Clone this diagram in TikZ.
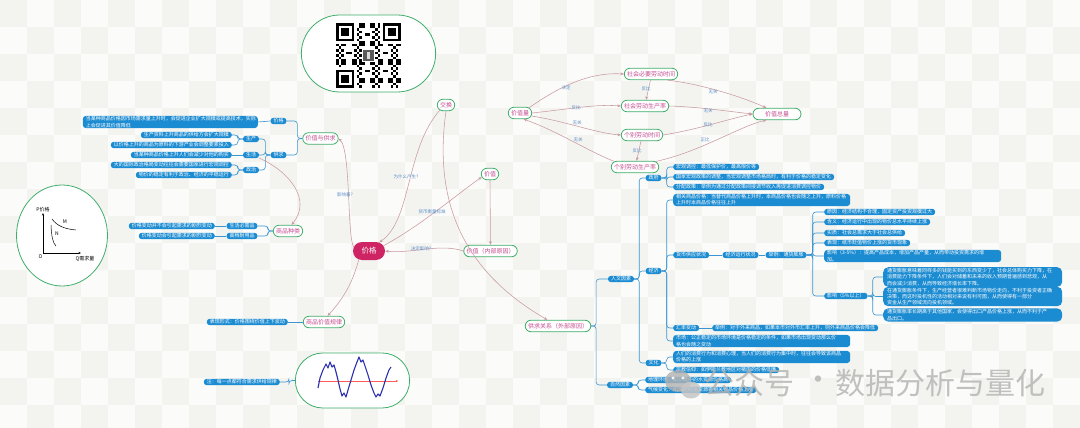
\documentclass[tikz,border=0pt]{standalone}
\usepackage{fontspec}
\setmainfont{Noto Sans CJK SC}
\usetikzlibrary{shapes.misc,shapes.geometric,arrows.meta,calc}
\definecolor{bpill}{HTML}{1C8CD2}
\definecolor{bline}{HTML}{3A95D2}
\definecolor{gborder}{HTML}{3FAE6A}
\definecolor{gtext}{HTML}{C24B8E}
\definecolor{crim}{HTML}{CE2463}
\definecolor{relc}{HTML}{C99AA0}
\definecolor{rlabc}{HTML}{5A8CC8}
\definecolor{bgA}{HTML}{FBFBF9}
\definecolor{bgB}{HTML}{F3F4F0}
\definecolor{wavec}{HTML}{2A2FB0}
\tikzset{
 pill/.style={rectangle, rounded corners=3pt, fill=bpill, text=white, font=\fontsize{5}{6.2}\selectfont, inner xsep=3pt, inner ysep=0.6pt, minimum height=6.4pt, align=left},
 bigpill/.style={pill, rounded corners=5pt, inner xsep=4pt, inner ysep=1.2pt},
 gnode/.style={rounded rectangle, draw=gborder, line width=0.8pt, fill=white, text=gtext, font=\fontsize{6}{7}\selectfont, inner xsep=2pt, inner ysep=0pt, minimum height=11.5pt},
 tree/.style={draw=bline, line width=0.6pt, rounded corners=3pt},
 rel/.style={draw=relc, line width=0.55pt, -{Stealth[length=3.5pt,width=2.8pt]}},
 rlab/.style={text=rlabc, font=\fontsize{4.5}{5}\selectfont, inner sep=0.5pt},
 glab/.style={font=\fontsize{5}{6}\selectfont, inner sep=0.5pt},
 wm/.style={font=\fontsize{30}{32}\selectfont, text=gray!60, opacity=0.8, inner sep=0pt},
}
\begin{document}
\begin{tikzpicture}[x=1pt,y=-1pt]
\useasboundingbox (0,0) rectangle (1080,428);
% background
\fill[bgA] (0,0) rectangle (1080,428);
\foreach \i in {0,...,39}{\foreach \j in {0,...,15}{\pgfmathtruncatemacro\k{mod(\i+\j,2)}\ifnum\k=0 \fill[bgB] (\i*27,\j*27) rectangle ++(27,27);\fi}}

% ---------- QR node ----------
\node[rounded rectangle, draw=gborder, line width=0.8pt, fill=white, minimum width=141pt, minimum height=77pt] (qr) at (368.5,53.5) {};
\begin{scope}[shift={(336,23)}]
\foreach \i in {0,...,24}{\foreach \j in {0,...,24}{\pgfmathtruncatemacro\v{mod(\i*\i*3+\j*\j*5+\i*\j*7+\i+2*\j,7)}\ifnum\v<3 \fill (\i*2.6,\j*2.6) rectangle ++(2.6,2.6);\fi}}
\fill[white] (0,0) rectangle (8*2.6,8*2.6);
\fill[white] (17*2.6,0) rectangle (25*2.6,8*2.6);
\fill[white] (0,17*2.6) rectangle (8*2.6,25*2.6);
\foreach \a/\b in {0/0,18/0,0/18}{
 \fill (\a*2.6,\b*2.6) rectangle ++(7*2.6,7*2.6);
 \fill[white] (\a*2.6+2.6,\b*2.6+2.6) rectangle ++(5*2.6,5*2.6);
 \fill (\a*2.6+5.2,\b*2.6+5.2) rectangle ++(3*2.6,3*2.6);}
\fill[white] (10*2.6,10*2.6) rectangle ++(5*2.6,5*2.6);
\fill[gray!70!black] (10.4*2.6,10.4*2.6) rectangle ++(4.2*2.6,4.2*2.6);
\fill[gray!30] (12*2.6,11*2.6) rectangle ++(1*2.6,3*2.6);
\end{scope}

% ---------- graph circle ----------
\node[ellipse, draw=gborder, line width=0.8pt, fill=white, minimum width=91pt, minimum height=101pt] (gcirc) at (62,235.5) {};
\coordinate (gO) at (43,253);
\coordinate (gP) at (43,213);
\coordinate (gQ) at (81,253);
\draw[line width=0.5pt, -{Stealth[length=2.5pt,width=2pt]}] (gO) -- (gP);
\draw[line width=0.5pt, -{Stealth[length=2.5pt,width=2pt]}] (gO) -- (gQ);
\node[glab] (lP) at (43,209.5) {P价格};
\node[glab] (lO) at (40.5,256.5) {O};
\node[glab] (lQ) at (85,259) {Q需求量};
\draw[line width=0.5pt] (52,219) .. controls (57,226) and (65,229) .. (76,230);
\draw[line width=0.5pt] (51,225) .. controls (51.5,237) and (53,243) .. (56,246);
\node[glab] (lM) at (65,221.5) {M};
\node[glab] (lN) at (57,233.5) {N};

% ---------- wave node ----------
\node[rounded rectangle, draw=gborder, line width=0.8pt, fill=white, minimum width=121pt, minimum height=55pt] (wave) at (352.5,380.5) {};
\draw[red!65, line width=0.5pt, -{Stealth[length=2pt,width=2pt]}] (318,381) -- (398,381);
\draw[wavec, line width=1.1pt, line join=round] (318,388) -- (320,378) -- (323,370) -- (326,364) -- (328,368) -- (330,362) -- (332,367) -- (334,365) -- (336,372) -- (338,380) -- (340,389) -- (342,396) -- (344,393) -- (346,397) -- (348,390) -- (351,380) -- (354,370) -- (357,362) -- (359,357) -- (361,362) -- (363,360) -- (365,366) -- (368,375) -- (371,385) -- (374,393) -- (376,397) -- (378,394) -- (380,396) -- (383,388) -- (386,378) -- (389,370) -- (391,367);
\node[pill, anchor=east] (tw) at (280,382) {注：每一点都符合需求供给规律};
\draw[tree] (wave.west) -- ++(-6,0) |- (tw.east);

% ---------- central ----------
\node[rounded rectangle, fill=crim, text=white, font=\fontsize{7.5}{8}\selectfont, minimum width=32pt, minimum height=18pt, inner sep=0pt] (price) at (369,251) {价格};

% ---------- left: 价值与供求 ----------
\node[gnode] (vs) at (320.5,138.5) {价值与供求};
\node[pill] (pjg) at (278.5,121) {价格};
\node[pill] (pgq) at (278.5,155) {供求};
\node[pill, anchor=east, text width=169pt] (t1) at (258,122) {当某种商品价格因市场需求量上升时，会促进企业扩大规模或提高技术，实际\\上会促进其价值降低};
\node[pill] (psc) at (251,139) {生产};
\node[pill] (psh) at (251,155) {生活};
\node[pill] (pzz) at (251,170) {政治};
\node[pill, anchor=east] (t2) at (232,135) {生产资料上升商品的供给方会扩大规模};
\node[pill, anchor=east] (t3) at (232,145) {以价格上升的商品为原料的下游产业会调整要素投入};
\node[pill, anchor=east] (t4) at (232,155) {当某种商品价格上升人们会减少对他的购买};
\node[pill, anchor=east] (t5) at (232,165) {大的国际政治格局变动往往会需要国家进行宏观调控};
\node[pill, anchor=east] (t6) at (232,175) {物价的稳定有利于政治、经济的平稳运行};
\draw[tree] (vs.west) -- ++(-5,0) |- (pjg.east);
\draw[tree] (vs.west) -- ++(-5,0) |- (pgq.east);
\draw[tree] (pjg.west) -- (t1.east);
\draw[tree] (pgq.west) -- ++(-5,0) |- (psc.east);
\draw[tree] (pgq.west) -- ++(-5,0) |- (psh.east);
\draw[tree] (pgq.west) -- ++(-5,0) |- (pzz.east);
\draw[tree] (psc.west) -- ++(-5,0) |- (t2.east);
\draw[tree] (psc.west) -- ++(-5,0) |- (t3.east);
\draw[tree] (psh.west) -- (t4.east);
\draw[tree] (pzz.west) -- ++(-5,0) |- (t5.east);
\draw[tree] (pzz.west) -- ++(-5,0) |- (t6.east);

% ---------- 商品种类 ----------
\node[gnode] (spzl) at (288,231) {商品种类};
\node[pill] (pbx) at (242,226) {生活必需品};
\node[pill] (pgd) at (242,236) {高档耐用品};
\node[pill, anchor=east] (tbx) at (215,226) {价格变动并不会引起需求的剧烈变动};
\node[pill, anchor=east] (tgd) at (215,236) {价格变动会引起需求的剧烈变动};
\draw[tree] (spzl.west) -- ++(-5,0) |- (pbx.east);
\draw[tree] (spzl.west) -- ++(-5,0) |- (pgd.east);
\draw[tree] (pbx.west) -- (tbx.east);
\draw[tree] (pgd.west) -- (tgd.east);

% ---------- 商品价值规律 ----------
\node[gnode] (gl) at (324,322) {商品价值规律};
\node[pill, anchor=east] (tgl) at (288,322) {表现形式：价格围绕价值上下波动};
\draw[tree] (gl.west) -- (tgl.east);

% ---------- middle green nodes ----------
\node[gnode] (jh) at (446,105) {交换};
\node[gnode] (jz) at (490,174) {价值};
\node[gnode] (jznb) at (490.5,251) {价值（内部原因）};
\node[gnode] (gq) at (558,326) {供求关系（外部原因）};

% ---------- value quantity cluster ----------
\node[gnode] (jzl) at (520,113) {价值量};
\node[gnode] (shbys) at (651,74) {社会必要劳动时间};
\node[gnode] (shsc) at (645,106) {社会劳动生产率};
\node[gnode] (gbsj) at (642,135) {个别劳动时间};
\node[gnode] (gbsc) at (635,167) {个别劳动生产率};
\node[gnode, minimum width=52pt] (jzzl) at (777,114) {价值总量};

% ---------- right tree ----------
\node[pill] (rw) at (621,279) {人文因素};
\node[pill] (zr) at (620,385) {自然因素};
\node[pill] (zf) at (653.5,178) {政府};
\node[pill] (jj) at (653.5,271) {经济};
\node[pill] (wh) at (653.5,363) {文化};
\draw[tree] (gq.east) -- ++(5,0) |- (rw.west);
\draw[tree] (gq.east) -- ++(5,0) |- (zr.west);
\draw[tree] (rw.east) -- ++(5,0) |- (zf.west);
\draw[tree] (rw.east) -- ++(5,0) |- (jj.west);
\draw[tree] (rw.east) -- ++(5,0) |- (wh.west);

\node[pill, anchor=west] (g1) at (673,167) {宏观调控：最低保护价，最高限价等};
\node[pill, anchor=west] (g2) at (673,177) {国家宏观政策的调整，当宏观调整市场格局时，有利于价格的稳定变化};
\node[pill, anchor=west] (g3) at (673,187) {分配政策：举例为通过分配政策间接调节收入再促进消费调控物价};
\foreach \c in {g1,g2,g3}{\draw[tree] (zf.east) -- ++(5,0) |- (\c.west);}

\node[pill, anchor=west, text width=171pt] (e1) at (673,200) {相关商品价格：当替代商品价格上升时，本商品价格也会随之上升，原料价格\\上升时本商品价格往往上升};
\node[pill, anchor=west] (e2) at (673,255) {货币供应状况};
\node[pill] (e2a) at (740.5,255) {经济运行状况};
\node[pill] (e2b) at (786,255) {举例：通货膨胀};
\node[pill, anchor=west] (e3) at (673,328) {汇率变动};
\node[pill, anchor=west] (e3a) at (712,328) {举例：对于外来商品，如果本币对外币汇率上升，则外来商品价格会降低};
\node[pill, anchor=west, text width=171pt] (e4) at (673,341) {市场：公正稳定的市场环境是价格稳定的条件，如果市场出现变动那么价\\格也会随之变动};
\foreach \c in {e1,e2,e3,e4}{\draw[tree] (jj.east) -- ++(5,0) |- (\c.west);}
\draw[tree] (e2.east) -- (e2a.west);
\draw[tree] (e2a.east) -- (e2b.west);
\draw[tree] (e3.east) -- (e3a.west);

\node[pill, anchor=west] (i1) at (824,212) {原因：经济结构不合理，固定资产投资规模过大};
\node[pill, anchor=west] (i2) at (824,222) {含义：经济运行中出现的物价总水平持续上涨};
\node[pill, anchor=west] (i3) at (824,233) {实质：社会总需求大于社会总供给};
\node[pill, anchor=west] (i4) at (824,243) {表现：纸币贬值物价上涨的货币现象};
\node[pill, anchor=west, text width=171pt] (i5) at (824,256) {影响（3-5\%）：提高产品成本，增加产品产量，从而带动投资需求的增\\加。};
\node[pill, anchor=west] (i6) at (824,296) {影响（5\%以上）};
\foreach \c in {i1,i2,i3,i4,i5,i6}{\draw[tree] (e2b.east) -- ++(6,0) |- (\c.west);}

\node[bigpill, anchor=west, text width=171pt] (j1) at (883,277) {通货膨胀意味着同样多的钱能买到的东西变少了，社会总体购买力下降，在\\消费能力下降条件下，人们会对储蓄和未来的收入预期普遍感到悲观，从\\而会减少消费，从而导致经济增长率下降。};
\node[bigpill, anchor=west, text width=171pt] (j2) at (883,296.5) {在通货膨胀条件下，生产经营者很难判断市场物价走向，不利于投资者正确\\决策，而这时投机性的活动相对来说有利可图，从而使得有一部分\\资金从生产领域流向投机领域。};
\node[bigpill, anchor=west, text width=171pt] (j3) at (883,315) {通货膨胀率长期高于其他国家，会使得出口产品价格上涨，从而不利于产\\品出口。};
\foreach \c in {j1,j2,j3}{\draw[tree] (i6.east) -- ++(5,0) |- (\c.west);}

\node[pill, anchor=west, text width=171pt] (c1) at (673,357) {人们的消费行为和消费心理，当人们的消费行为集中时，往往会导致该商品\\价格的上涨};
\node[pill, anchor=west] (c2) at (673,370) {宗教信仰：如伊斯兰教地区对猪肉的价格低廉};
\foreach \c in {c1,c2}{\draw[tree] (wh.east) -- ++(5,0) |- (\c.west);}

\node[pill, anchor=west] (n1) at (645,380) {地理环境：如沙漠中的水资源价格高};
\node[pill, anchor=west] (n2) at (645,390) {气候变化：如旱灾时水资源等相关物品价格上涨};
\foreach \c in {n1,n2}{\draw[tree] (zr.east) -- ++(5,0) |- (\c.west);}

% ---------- relationship lines ----------
\draw[rel] (price.165) .. controls (347,238) and (351,150) .. (vs.east);
\node[rlab] (r1) at (346,195) {影响着？};
\draw[rel] (jh.220) .. controls (405,150) and (412,220) .. (price.40);
\node[rlab] (r2) at (407,177) {为什么产生？};
\draw[rel] (price.20) .. controls (420,226) and (455,196) .. (jz.200);
\node[rlab] (r3) at (432,212) {货币衡量标准};
\draw[rel] (jznb.west) .. controls (440,243) and (410,254) .. (price.east);
\node[rlab] (r4) at (422,249) {决定影响？};
\draw[rel] (jz.south) -- (jznb.north);
\draw[rel] (jh.south) .. controls (432,210) and (470,275) .. (gq.150);
\draw[rel] (psh.-20) .. controls (290,172) and (312,200) .. (spzl.60);
\draw[rel] (price.220) .. controls (352,285) and (342,300) .. (gl.60);

\draw[rel] (jzl.30) .. controls (560,86) and (590,72) .. (shbys.west);
\node[rlab] (r5) at (566,88) {决定};
\draw[rel] (jzl.east) .. controls (570,109) and (595,104) .. (shsc.west);
\node[rlab] (r6) at (576,108) {反比};
\draw[rel] (jzl.-15) .. controls (565,121) and (595,133) .. (gbsj.west);
\node[rlab] (r7) at (577,123) {无关};
\draw[rel] (gbsc.165) .. controls (590,152) and (555,130) .. (jzl.-60);
\node[rlab] (r8) at (578,140) {无关};
\draw[rel] (shbys.-95) -- (shsc.80);
\node[rlab] (r9) at (646,89) {反比};
\draw[rel] (gbsj.-100) -- (gbsc.75);
\node[rlab] (r10) at (637,151) {反比};
\draw[rel] (shbys.-20) .. controls (700,84) and (740,96) .. (jzzl.150);
\node[rlab] (r11) at (713,92) {无关};
\draw[rel] (shsc.east) .. controls (700,107) and (725,111) .. (jzzl.west);
\node[rlab] (r12) at (708,110.5) {无关};
\draw[rel] (gbsj.east) .. controls (700,129) and (728,119) .. (jzzl.west);
\node[rlab] (r13) at (708,125) {反比};
\draw[rel] (gbsc.15) .. controls (700,152) and (740,126) .. (jzzl.-150);
\node[rlab] (r14) at (705,140) {正比};

% ---------- watermark ----------
\fill[gray!60, opacity=0.8] (678,381) ellipse (13 and 11);
\fill[gray!45, opacity=0.85] (691,390) ellipse (10 and 8.5);
\fill[white, opacity=0.9] (673,378) circle (1.6) (683,378) circle (1.6);
\node[wm, anchor=west] (wm1) at (704,383) {公众号};
\node[wm] (wm2) at (818,383) {·};
\node[wm, anchor=west] (wm3) at (835,383) {数据分析与量化};
\end{tikzpicture}
\end{document}
